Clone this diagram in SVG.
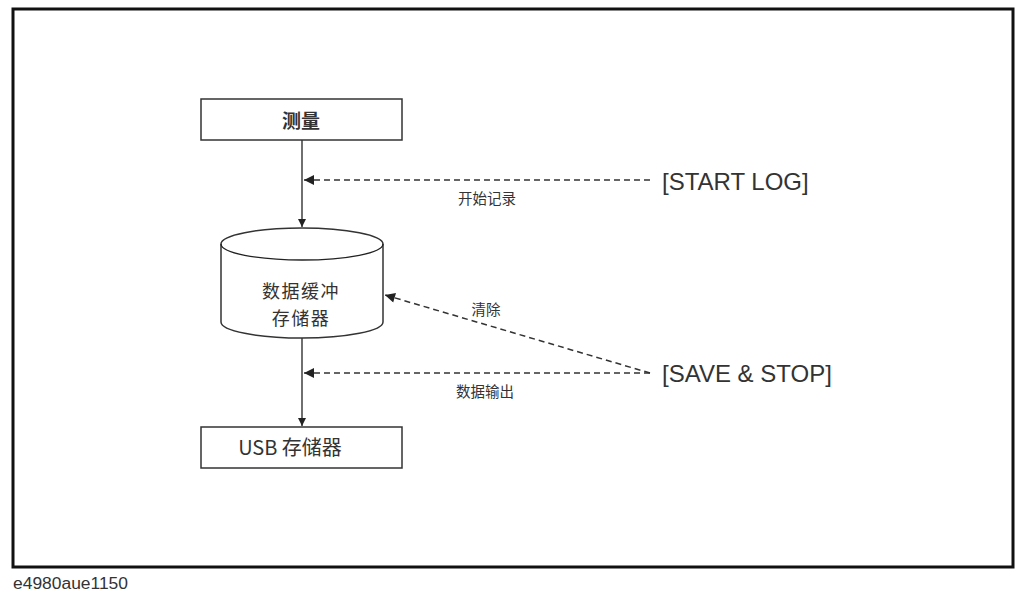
<svg xmlns="http://www.w3.org/2000/svg" width="1016" height="597" viewBox="0 0 1016 597">
<style>
.box{fill:#fff;stroke:#333;stroke-width:1.5}
.solid{fill:none;stroke:#222;stroke-width:1.3}
.dash{fill:none;stroke:#333;stroke-width:1.5;stroke-dasharray:6 4}
.cn{font-family:"Noto Sans CJK SC","Liberation Sans",sans-serif;fill:#333;text-anchor:middle}
.en{font-family:"Liberation Sans",Arial,sans-serif;fill:#333}
</style>
<defs>
<marker id="ah" viewBox="0 0 10 10" refX="10" refY="5" markerWidth="8" markerHeight="10" markerUnits="userSpaceOnUse" orient="auto">
<path d="M0,0 L10,5 L0,10 z" fill="#222"/>
</marker>
<marker id="ahd" viewBox="0 0 10 10" refX="10" refY="5" markerWidth="14" markerHeight="10" markerUnits="userSpaceOnUse" orient="auto">
<path d="M0,0 L10,5 L0,10 z" fill="#222"/>
</marker>
</defs>
<rect x="0" y="0" width="1016" height="597" fill="#fff"/>
<rect x="13" y="9" width="1000" height="558" fill="none" stroke="#111" stroke-width="3"/>
<g id="connectors">
<line class="solid" x1="302" y1="140" x2="302" y2="227" marker-end="url(#ah)"/>
<line class="solid" x1="302" y1="338" x2="302" y2="426" marker-end="url(#ah)"/>
<line class="dash" x1="650" y1="180" x2="304" y2="180" marker-end="url(#ahd)"/>
<line class="dash" x1="650" y1="373" x2="304" y2="373" marker-end="url(#ahd)"/>
<line class="dash" x1="650" y1="373" x2="385" y2="295" marker-end="url(#ahd)"/>
<text class="cn" x="487" y="204" font-size="14.5">开始记录</text>
<text class="cn" x="486" y="315" font-size="14.5">清除</text>
<text class="cn" x="485" y="397" font-size="14.5">数据输出</text>
</g>
<g id="measure">
<rect class="box" x="201" y="99" width="201" height="41"/>
<text class="cn" x="301" y="128" font-size="19" font-weight="bold">测量</text>
</g>
<g id="buffer">
<path class="box" d="M221,244 A81,16 0 0 1 383,244 L383,322 A81,16 0 0 1 221,322 Z"/>
<path class="solid" d="M221,244 A81,16 0 0 0 383,244" stroke="#333" stroke-width="1.5"/>
<text class="cn" x="301" y="298" font-size="18" letter-spacing="1.5">数据缓冲</text>
<text class="cn" x="301" y="325" font-size="18" letter-spacing="1.5">存储器</text>
</g>
<g id="usb">
<rect class="box" x="201" y="427" width="201" height="41"/>
<text class="cn" x="290" y="455" font-size="20">USB 存储器</text>
</g>
<g id="startlog">
<text class="en" x="662" y="190" font-size="24">[START LOG]</text>
</g>
<g id="savestop">
<text class="en" x="662" y="382" font-size="24">[SAVE &amp; STOP]</text>
</g>
<text class="en" x="13" y="589" font-size="16" textLength="115" lengthAdjust="spacingAndGlyphs">e4980aue1150</text>
</svg>
